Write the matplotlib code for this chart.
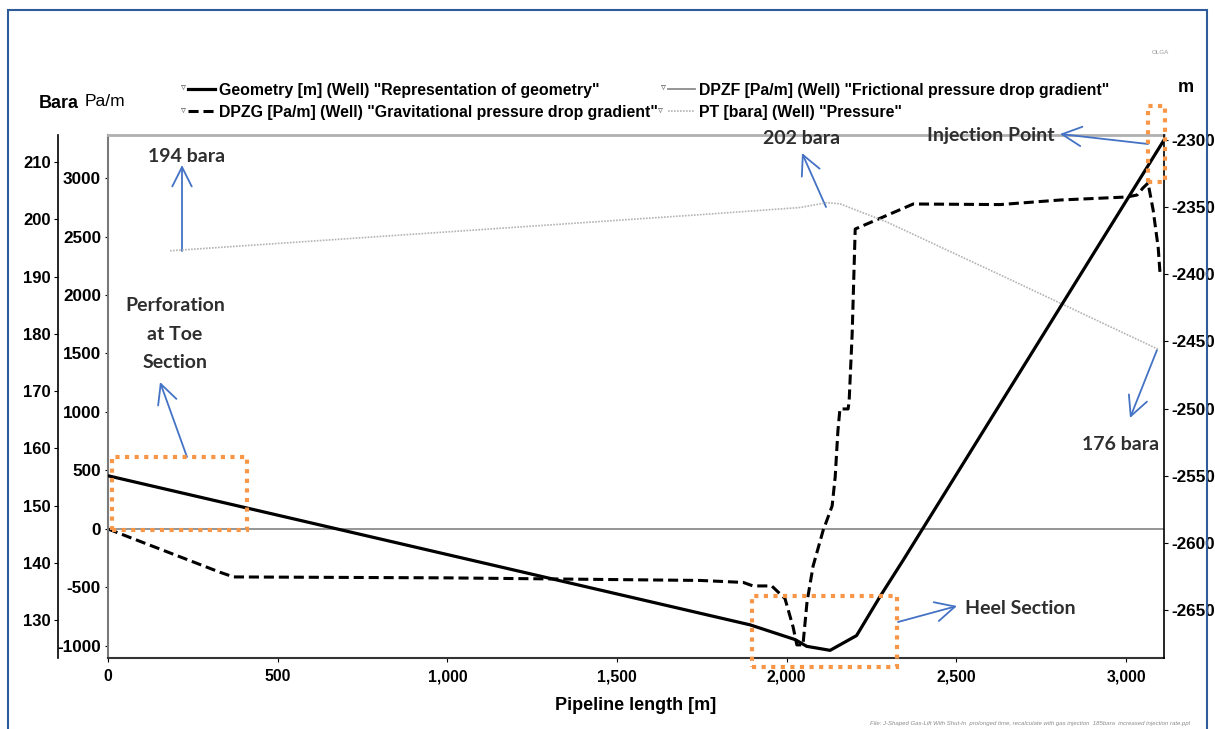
import matplotlib
matplotlib.use('Agg')
import matplotlib.pyplot as plt
from matplotlib import font_manager
from matplotlib.patches import Rectangle
from matplotlib.ticker import FuncFormatter

# ---- data ----
# Geometry [m] (right axis)
geo_x = [0, 1892, 2025, 2059, 2128, 2206, 2275, 2343, 3112]
geo_m = [-2550, -2661, -2672, -2677, -2680, -2669, -2640, -2613, -2300]

# DPZG [Pa/m] gravitational gradient
dpzg_x = [0, 330, 370, 1000, 1745, 1872, 1901, 1956, 1995, 2019, 2030, 2048,
          2060, 2078, 2107, 2134, 2143, 2151, 2157, 2181, 2184, 2193, 2202,
          2373, 2629, 2806, 3003, 3033, 3050, 3065, 3080, 3095, 3100, 3112]
dpzg_v = [0, -370, -410, -418, -440, -457, -487, -487, -595, -838, -991, -991,
          -624, -316, -17, 197, 444, 838, 1026, 1026, 1085, 1667, 2564,
          2778, 2773, 2812, 2838, 2855, 2915, 2957, 2726, 2402, 2197, 2197]

# DPZF [Pa/m] frictional gradient
dpzf_x = [0, 3112]
dpzf_v = [0, 0]

# PT [bara] pressure
pt_x = [183, 1745, 2039, 2119, 2157, 2296, 2629, 3095]
pt_b = [194.5, 200.8, 202.05, 202.9, 202.7, 199.5, 190.3, 177.3]

labels = ['Geometry [m] (Well) "Representation of geometry"',
          'DPZG [Pa/m] (Well) "Gravitational pressure drop gradient"',
          'DPZF [Pa/m] (Well) "Frictional pressure drop gradient"',
          'PT [bara] (Well) "Pressure"']

# ---- fonts ----
names = {f.name for f in font_manager.fontManager.ttflist}
if 'Liberation Sans Narrow' in names:
    cond, k = 'Liberation Sans Narrow', 1.0
else:
    cond, k = 'Liberation Sans', 0.82
plt.rcParams['font.family'] = [cond, 'DejaVu Sans']
plt.rcParams['font.weight'] = 'bold'
plt.rcParams['axes.unicode_minus'] = False
note_font = ['Lato', 'DejaVu Sans']

W, H = 1215, 729
fig = plt.figure(figsize=(W / 100, H / 100), dpi=100)


def fx(px):
    return px / W


def fy(py):
    return 1 - py / H


L, R, T, B = 108, 1164, 134.5, 658
ax = fig.add_axes([fx(L), fy(B), fx(R) - fx(L), fy(T) - fy(B)])
ax_bar = ax.twinx()
ax_m = ax.twinx()

# Pa/m lines
h_dpzf, = ax.plot(dpzf_x, dpzf_v, color='#8c8c8c', lw=1.3)
h_dpzg, = ax.plot(dpzg_x, dpzg_v, color='black', lw=2.2, ls=(0, (3.3, 1.6)))
# pressure
h_pt, = ax_bar.plot(pt_x, pt_b, color='#b4b4b4', lw=1.2, ls=(0, (1, 0.8)))
# geometry
h_geo, = ax_m.plot(geo_x, geo_m, color='black', lw=2.3)

ax.set_xlim(0, 3112)
ax.set_ylim(-1103, 3372)
ax_bar.set_ylim(123.4, 214.8)
ax_m.set_ylim(-2685.7, -2295.9)

ax.set_xticks(range(0, 3001, 500))
ax.xaxis.set_major_formatter(FuncFormatter(lambda v, p: '{:,.0f}'.format(v)))
ax.set_yticks(range(-1000, 3001, 500))
ax_bar.set_yticks(range(130, 211, 10))
ax_m.set_yticks(range(-2650, -2299, 50))

# spines
ax.spines['top'].set_color('#b0b0b0')
ax.spines['top'].set_linewidth(2)
ax.spines['left'].set_color('#7a7a7a')
ax.spines['left'].set_linewidth(1.5)
ax.spines['bottom'].set_color('#333333')
ax.spines['bottom'].set_linewidth(1.5)
ax.spines['right'].set_visible(False)

for s in ['top', 'bottom', 'right']:
    ax_bar.spines[s].set_visible(False)
ax_bar.spines['left'].set_visible(True)
ax_bar.spines['left'].set_position(('axes', -50 / (R - L)))
ax_bar.spines['left'].set_color('black')
ax_bar.spines['left'].set_linewidth(1.2)
ax_bar.yaxis.set_ticks_position('left')
ax_bar.yaxis.set_label_position('left')

for s in ['top', 'bottom', 'left']:
    ax_m.spines[s].set_visible(False)
ax_m.spines['right'].set_color('black')
ax_m.spines['right'].set_linewidth(1.2)

ax.tick_params(axis='y', length=2, width=0.8, pad=3, labelsize=15 * k)
ax.tick_params(axis='x', length=3, width=0.8, pad=5, labelsize=14 * k)
ax_bar.tick_params(axis='y', length=3, width=0.8, pad=2, labelsize=12)
ax_m.tick_params(axis='y', length=3, width=0.8, pad=2, labelsize=15 * k)

ax.set_xlabel('Pipeline length [m]', fontsize=13, fontweight='bold', labelpad=9)

fig.text(fx(59), fy(104), 'Bara', ha='center', va='center', fontsize=13)
fig.text(fx(105), fy(101), 'Pa/m', ha='center', va='center',
         fontsize=12.5, fontweight='normal')
fig.text(fx(1186), fy(88), 'm', ha='center', va='center', fontsize=13)

# legends (two columns as two legends)
fs = 11.4
px_fs = fs * 100 / 72
leg_kw = dict(loc='upper left', frameon=False, fontsize=fs, borderpad=0,
              borderaxespad=0, handlelength=27 / px_fs,
              handletextpad=4 / px_fs, labelspacing=0.45)
leg1 = fig.legend([h_geo, h_dpzg], labels[:2],
                  bbox_to_anchor=(fx(188), fy(82.5)), **leg_kw)
leg2 = fig.legend([h_dpzf, h_pt], labels[2:],
                  bbox_to_anchor=(fx(668), fy(82.5)), **leg_kw)
for (x, y) in [(183, 88), (183, 111), (663, 88), (660, 111)]:
    fig.text(fx(x), fy(y - 1), '\u25bf', ha='center', va='center', fontsize=7,
             color='#555555', family='DejaVu Sans', fontweight='normal')

# call-outs
note_col = '#2e2e2e'
notes = [('194 bara', 187, 157), ('202 bara', 802, 138),
         ('Injection Point', 991, 136), ('176 bara', 1121, 445),
         ('Perforation\nat Toe\nSection', 175, 334), ('Heel Section', 1020, 609)]
for txt, x, y in notes:
    fig.text(fx(x), fy(y), txt, ha='center', va='center', fontsize=14,
             family=note_font, fontweight='bold', color=note_col,
             linespacing=1.85)

arrows = [((182, 251), (182, 165)), ((826, 207), (802, 153)),
          ((1148, 144), (1060, 134)), ((1157, 350), (1130, 418)),
          ((187, 457), (160, 382)), ((898, 622), (957, 606))]
for (x0, y0), (x1, y1) in arrows:
    ax.annotate('', xy=(x1, H - y1), xytext=(x0, H - y0),
                xycoords='figure pixels', textcoords='figure pixels',
                arrowprops=dict(arrowstyle='->,head_length=0.7,head_width=0.35',
                                color='#4472c4', lw=1.3, shrinkA=0, shrinkB=0,
                                mutation_scale=20))

# dotted orange boxes
for (x0, y0, x1, y1) in [(112, 457, 247, 530), (752, 596, 897, 667),
                         (1148, 106, 1165, 182)]:
    fig.add_artist(Rectangle((fx(x0), fy(y1)), fx(x1) - fx(x0), fy(y0) - fy(y1),
                             transform=fig.transFigure, fill=False,
                             ec='#f79646', lw=3, ls=(0, (1, 1.3))))

# outer frame
fig.add_artist(Rectangle((fx(8), fy(745)), fx(1207) - fx(8), fy(10) - fy(745),
                         transform=fig.transFigure, fill=False,
                         ec='#2e5c9a', lw=1.5))

fig.text(fx(1160), fy(52), 'OLGA', ha='center', va='center', fontsize=4.5,
         color='#9a9a9a', fontweight='normal')
fig.text(fx(1190), fy(724),
         'File: J-Shaped Gas-Lift With Shut-In  prolonged time, recalculate with gas '
         'injection  185bara  increased injection rate.ppl',
         ha='right', va='center', fontsize=4.3, color='#8a8a8a',
         fontweight='normal', style='italic')

fig.savefig('out.png', dpi=100)
